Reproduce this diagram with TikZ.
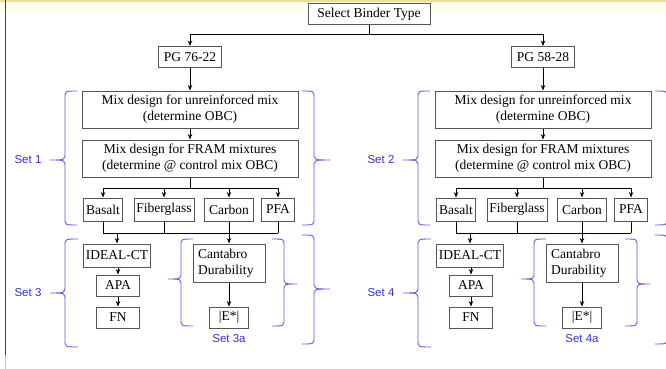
\documentclass[tikz,border=0pt]{standalone}
\usepackage{fontspec}
\usetikzlibrary{arrows.meta}
\setmainfont{Liberation Serif}
\newfontfamily\labfont{Liberation Sans}
\definecolor{boxgray}{RGB}{85,85,85}
\definecolor{braceblue}{RGB}{95,95,225}
\definecolor{labblue}{RGB}{50,50,215}
\definecolor{borderbrown}{RGB}{95,55,45}
\definecolor{borderpink}{RGB}{225,180,180}
\definecolor{topyellow}{RGB}{236,222,150}
\definecolor{topcream}{RGB}{255,253,238}
\tikzset{
  fbox/.style={draw=boxgray, line width=1.0pt, inner sep=0pt, align=center,
    font=\fontsize{13.5}{16}\selectfont, fill=white},
  conn/.style={draw=black, line width=0.9pt},
  arr/.style={conn, -{Stealth[length=5.5pt,width=4.5pt]}},
  bracesty/.style={draw=braceblue, line width=0.9pt},
  setlab/.style={text=labblue, font=\labfont\fontsize{11.5}{13}\selectfont, inner sep=0pt}
}
% hook x, stem x, tip x, top y, bottom y, mid y
\newcommand\BrShape[6]{%
  \draw[bracesty] (#1,#4) .. controls (#2,#4) .. (#2,#4+7) -- (#2,#6-7)
    .. controls (#2,#6) .. (#3,#6) .. controls (#2,#6) .. (#2,#6+7)
    -- (#2,#5-7) .. controls (#2,#5) .. (#1,#5);}
% prefix, PG text, upper set, lower set, inner set
\newcommand\HalfTree[5]{%
  \node[fbox, minimum width=63, minimum height=21] (#1pg) at (190,57) {#2};
  \node[fbox, minimum width=216, minimum height=37] (#1mixu) at (190,109.5)
    {Mix design for unreinforced mix\\(determine OBC)};
  \node[fbox, minimum width=216, minimum height=37] (#1fram) at (190,158.5)
    {Mix design for FRAM mixtures\\(determine @ control mix OBC)};
  \node[fbox, minimum width=39, minimum height=23] (#1bas) at (103,209.5) {Basalt};
  \node[fbox, minimum width=60, minimum height=23] (#1fib) at (164,209.5) {Fiberglass};
  \node[fbox, minimum width=49, minimum height=23] (#1car) at (229,209.5) {Carbon};
  \node[fbox, minimum width=33, minimum height=23] (#1pfa) at (278,209.5) {PFA};
  \node[fbox, minimum width=67, minimum height=23] (#1ideal) at (117,255.5) {IDEAL-CT};
  \node[fbox, minimum width=43, minimum height=21] (#1apa) at (118,285.5) {APA};
  \node[fbox, minimum width=43, minimum height=21] (#1fn) at (118,317.5) {FN};
  \node[fbox, text width=62, inner xsep=5pt, minimum height=38, align=left] (#1cant) at (229,263)
    {Cantabro\\Durability};
  \node[fbox, minimum width=39, minimum height=21] (#1es) at (229,317.5) {|E*|};
  \draw[arr] (#1pg) -- (#1mixu);
  \draw[arr] (#1mixu) -- (#1fram);
  \draw[conn] (#1fram.south) -- (190,188) coordinate (#1split);
  \draw[conn] (#1bas.north |- #1split) -- (#1pfa.north |- #1split);
  \foreach \b in {bas,fib,car,pfa}{\draw[arr] (#1\b.north |- #1split) -- (#1\b.north);}
  \coordinate (#1merge) at (190,233);
  \foreach \b in {bas,fib,car,pfa}{\draw[conn] (#1\b.south) -- (#1\b.south |- #1merge);}
  \draw[conn] (#1bas.south |- #1merge) -- (#1pfa.south |- #1merge);
  \draw[arr] (#1ideal.north |- #1merge) -- (#1ideal.north);
  \draw[arr] (#1cant.north |- #1merge) -- (#1cant.north);
  \draw[arr] (#1ideal.south -| #1apa.north) -- (#1apa.north);
  \draw[arr] (#1apa) -- (#1fn);
  \draw[arr] (#1cant) -- (#1es);
  \BrShape{77}{65}{50}{91}{225}{160}
  \BrShape{302}{314}{330}{91}{225}{160}
  \BrShape{78}{65}{50}{239}{347}{293}
  \BrShape{302}{314}{330}{235}{344}{289}
  \BrShape{193}{181}{168}{239}{326}{279}
  \BrShape{272}{284}{297}{239}{326}{284}
  \node[setlab] (#1setA) at (28,160) {#3};
  \node[setlab] (#1setB) at (28,293) {#4};
  \node[setlab] (#1setBa) at (229,339) {#5};
}
\begin{document}
\begin{tikzpicture}[x=1pt,y=-1pt]
\useasboundingbox (0,0) rectangle (666,369);
\clip (0,0) rectangle (666,369);
\fill[white] (0,0) rectangle (666,369);
\fill[topcream] (0,0) rectangle (666,12);
\draw[topyellow, line width=1.6pt] (0,0.8) -- (666,0.8);
\draw[borderbrown, line width=1.3pt] (5.5,0) -- (5.5,355);
\draw[borderpink, line width=1.3pt] (5.5,355) -- (5.5,369);
\node[fbox, minimum width=122, minimum height=21] (select) at (369,14.5) {Select Binder Type};
\HalfTree{L}{PG 76-22}{Set 1}{Set 3}{Set 3a}
\begin{scope}[xshift=353pt]
\HalfTree{R}{PG 58-28}{Set 2}{Set 4}{Set 4a}
\end{scope}
\draw[conn] (select.south) -- (select.south |- 0,34) coordinate (topsplit);
\draw[conn] (Lpg.north |- topsplit) -- (Rpg.north |- topsplit);
\draw[arr] (Lpg.north |- topsplit) -- (Lpg.north);
\draw[arr] (Rpg.north |- topsplit) -- (Rpg.north);
\end{tikzpicture}
\end{document}
